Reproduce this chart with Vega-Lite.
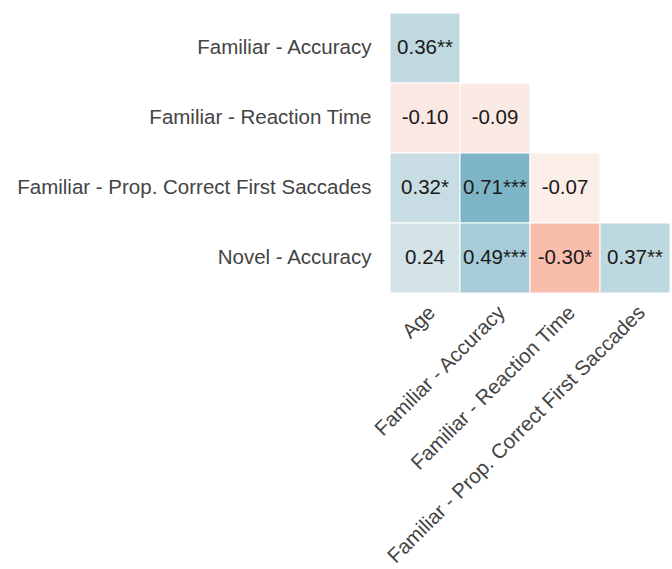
{
  "$schema": "https://vega.github.io/schema/vega-lite/v6.json",
  "padding": {"left": 16, "top": 12, "right": 0, "bottom": 0},
  "width": 280,
  "height": 280,
  "config": {
    "view": {"stroke": null},
    "font": "Liberation Sans"
  },
  "data": {
    "values": [
      {"row": "Familiar - Accuracy", "col": "Age", "r": 0.36, "label": "0.36**"},
      {"row": "Familiar - Reaction Time", "col": "Age", "r": -0.10, "label": "-0.10"},
      {"row": "Familiar - Reaction Time", "col": "Familiar - Accuracy", "r": -0.09, "label": "-0.09"},
      {"row": "Familiar - Prop. Correct First Saccades", "col": "Age", "r": 0.32, "label": "0.32*"},
      {"row": "Familiar - Prop. Correct First Saccades", "col": "Familiar - Accuracy", "r": 0.71, "label": "0.71***"},
      {"row": "Familiar - Prop. Correct First Saccades", "col": "Familiar - Reaction Time", "r": -0.07, "label": "-0.07"},
      {"row": "Novel - Accuracy", "col": "Age", "r": 0.24, "label": "0.24"},
      {"row": "Novel - Accuracy", "col": "Familiar - Accuracy", "r": 0.49, "label": "0.49***"},
      {"row": "Novel - Accuracy", "col": "Familiar - Reaction Time", "r": -0.30, "label": "-0.30*"},
      {"row": "Novel - Accuracy", "col": "Familiar - Prop. Correct First Saccades", "r": 0.37, "label": "0.37**"}
    ]
  },
  "encoding": {
    "x": {
      "field": "col",
      "type": "nominal",
      "sort": ["Age", "Familiar - Accuracy", "Familiar - Reaction Time", "Familiar - Prop. Correct First Saccades"],
      "scale": {"paddingInner": 0, "paddingOuter": 0},
      "axis": {
        "title": null,
        "domain": false,
        "ticks": false,
        "labelAngle": -45,
        "labelFontSize": 20.5,
        "labelColor": "#444444",
        "labelPadding": 9,
        "labelLimit": 0
      }
    },
    "y": {
      "field": "row",
      "type": "nominal",
      "sort": ["Familiar - Accuracy", "Familiar - Reaction Time", "Familiar - Prop. Correct First Saccades", "Novel - Accuracy"],
      "scale": {"paddingInner": 0, "paddingOuter": 0},
      "axis": {
        "title": null,
        "domain": false,
        "ticks": false,
        "labelFontSize": 20.5,
        "labelColor": "#444444",
        "labelPadding": 19,
        "labelLimit": 0
      }
    }
  },
  "layer": [
    {
      "mark": {"type": "rect", "stroke": "white", "strokeWidth": 1},
      "encoding": {
        "color": {
          "field": "r",
          "type": "quantitative",
          "legend": null,
          "scale": {
            "domain": [-1, -0.3, -0.1, 0, 0.36, 0.71, 1],
            "range": ["#e0694a", "#f9bdab", "#fbe8e2", "#fbf8f7", "#c0d9e1", "#7eb5c6", "#3f8ba3"],
            "interpolate": "rgb"
          }
        }
      }
    },
    {
      "mark": {"type": "text", "fontSize": 20.5, "color": "#1a1a1a"},
      "encoding": {
        "text": {"field": "label", "type": "nominal"}
      }
    }
  ]
}
